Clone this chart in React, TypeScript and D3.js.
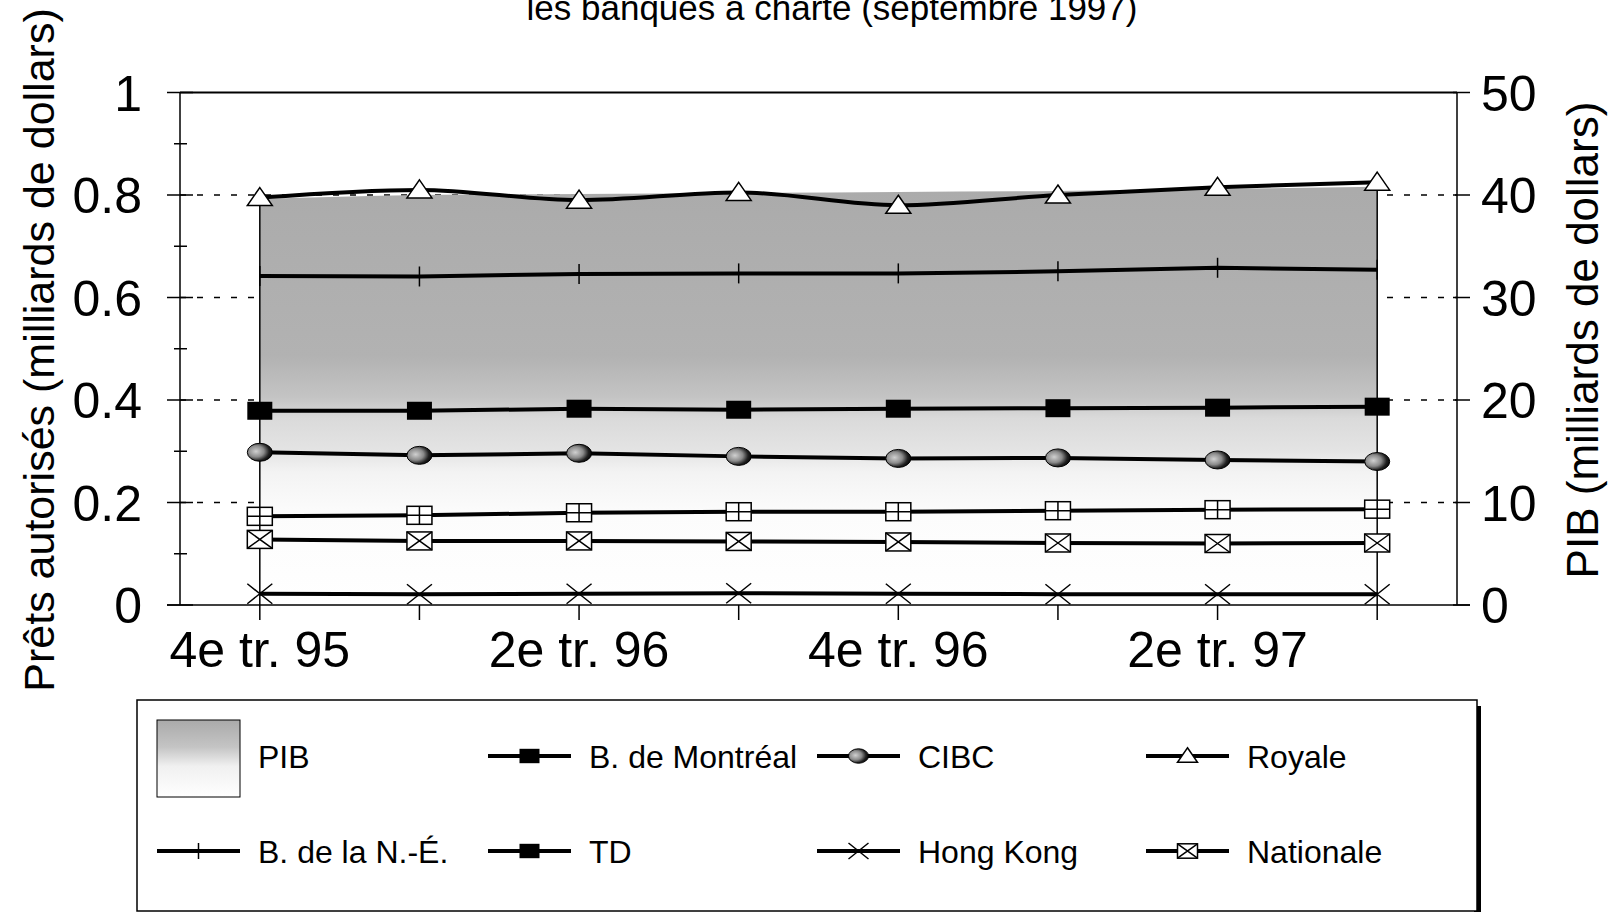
import * as d3 from 'd3';

const W = 1612;
const H = 914;
const PLOT = { left: 180, right: 1457, top: 92.5, bottom: 605 };
const FONT = 'Liberation Sans, Arial, Helvetica, sans-serif';

// quarters (only every other one is labelled on the axis)
const categories = ['4e tr. 95', '1er tr. 96', '2e tr. 96', '3e tr. 96', '4e tr. 96', '1er tr. 97', '2e tr. 97', '3e tr. 97'];
const tickLabels = ['4e tr. 95', '', '2e tr. 96', '', '4e tr. 96', '', '2e tr. 97', ''];
const leftTicks = [0, 0.2, 0.4, 0.6, 0.8, 1];
const leftMinor = [0.1, 0.3, 0.5, 0.7, 0.9];
const rightTicks = [0, 10, 20, 30, 40, 50];

// PIB in milliards de dollars (right axis)
const pib = [39.6, 40.0, 40.1, 40.2, 40.3, 40.4, 40.6, 40.8];
// prêts autorisés in milliards de dollars (left axis)
const royale = [0.795, 0.81, 0.79, 0.805, 0.78, 0.8, 0.815, 0.825];
const nouvelleEcosse = [0.642, 0.641, 0.646, 0.647, 0.647, 0.651, 0.658, 0.654];
const montreal = [0.379, 0.379, 0.383, 0.381, 0.383, 0.384, 0.385, 0.387];
const cibc = [0.298, 0.292, 0.296, 0.29, 0.286, 0.287, 0.283, 0.28];
const td = [0.173, 0.175, 0.18, 0.182, 0.182, 0.184, 0.186, 0.187];
const nationale = [0.128, 0.125, 0.125, 0.124, 0.123, 0.121, 0.12, 0.121];
const hongKong = [0.022, 0.021, 0.022, 0.023, 0.022, 0.021, 0.021, 0.021];

const series = [
  { name: 'B. de la N.-É.', values: nouvelleEcosse, marker: 'tick', smooth: false },
  { name: 'Royale', values: royale, marker: 'triangle', smooth: true },
  { name: 'B. de Montréal', values: montreal, marker: 'square', smooth: false },
  { name: 'CIBC', values: cibc, marker: 'sphere', smooth: false },
  { name: 'TD', values: td, marker: 'squarePlus', smooth: false },
  { name: 'Nationale', values: nationale, marker: 'squareX', smooth: false },
  { name: 'Hong Kong', values: hongKong, marker: 'cross', smooth: false },
];

const legendRows = [
  [
    { label: 'PIB', marker: 'area' },
    { label: 'B. de Montréal', marker: 'square' },
    { label: 'CIBC', marker: 'sphere' },
    { label: 'Royale', marker: 'triangle' },
  ],
  [
    { label: 'B. de la N.-É.', marker: 'tick' },
    { label: 'TD', marker: 'square' },
    { label: 'Hong Kong', marker: 'cross' },
    { label: 'Nationale', marker: 'squareX' },
  ],
];

const Marker = ({ type, x, y, s = 1 }: { type: string; x: number; y: number; s?: number }) => {
  const w = 12.5 * s;
  const h = 9 * s;
  if (type === 'square') return <rect x={x - w} y={y - h} width={2 * w} height={2 * h} fill="#000" />;
  if (type === 'squarePlus' || type === 'squareX')
    return (
      <g stroke="#000" strokeWidth={1.5}>
        <rect x={x - w} y={y - h} width={2 * w} height={2 * h} fill="#fff" />
        {type === 'squarePlus' ? (
          <path d={`M${x},${y - h}V${y + h}M${x - w},${y}H${x + w}`} />
        ) : (
          <path d={`M${x - w},${y - h}L${x + w},${y + h}M${x - w},${y + h}L${x + w},${y - h}`} />
        )}
      </g>
    );
  if (type === 'triangle')
    return (
      <path
        d={`M${x},${y - h - 1}L${x + w},${y + h - 1}L${x - w},${y + h - 1}Z`}
        fill="#fff"
        stroke="#000"
        strokeWidth={1.5}
      />
    );
  if (type === 'sphere') return <ellipse cx={x} cy={y} rx={w} ry={h} fill="url(#sphere)" stroke="#000" strokeWidth={1} />;
  if (type === 'cross')
    return (
      <path
        d={`M${x - w},${y - 10 * s}L${x + w},${y + 10 * s}M${x - w},${y + 10 * s}L${x + w},${y - 10 * s}`}
        stroke="#000"
        strokeWidth={1.5}
      />
    );
  if (type === 'tick') return <path d={`M${x},${y - 10 * s}V${y + 10 * s}`} stroke="#000" strokeWidth={1.5} />;
  return null;
};

export default function App() {
  const x = d3.scalePoint().domain(categories).range([PLOT.left, PLOT.right]).padding(0.5);
  const yL = d3.scaleLinear().domain([0, 1]).range([PLOT.bottom, PLOT.top]);
  const yR = d3.scaleLinear().domain([0, 50]).range([PLOT.bottom, PLOT.top]);

  const pibArea = d3
    .area<number>()
    .x((_, i) => x(categories[i])!)
    .y0(yR(0))
    .y1((d) => yR(d))
    .curve(d3.curveMonotoneX);

  const lineFor = (smooth: boolean) =>
    d3
      .line<number>()
      .x((_, i) => x(categories[i])!)
      .y((d) => yL(d))
      .curve(smooth ? d3.curveMonotoneX : d3.curveLinear);

  const xFirst = x(categories[0])!;
  const xLast = x(categories[categories.length - 1])!;

  const legendCols = [157, 488, 817, 1146];
  const legendRowY = [756, 851];

  return (
    <svg width={W} height={H} style={{ position: 'absolute', left: 0, top: 0, background: '#fff' }} fontFamily={FONT}>
      <defs>
        <linearGradient id="pibFill" gradientUnits="userSpaceOnUse" x1={0} y1={190} x2={0} y2={PLOT.bottom}>
          <stop offset={0} stopColor="#ababab" />
          <stop offset={0.4} stopColor="#b2b2b2" />
          <stop offset={0.5} stopColor="#c4c4c4" />
          <stop offset={0.55} stopColor="#dadada" />
          <stop offset={0.63} stopColor="#e4e4e4" />
          <stop offset={0.68} stopColor="#f3f3f3" />
          <stop offset={0.78} stopColor="#fcfcfc" />
          <stop offset={1} stopColor="#ffffff" />
        </linearGradient>
        <linearGradient id="pibSwatch" x1={0} y1={0} x2={0} y2={1}>
          <stop offset={0} stopColor="#aaaaaa" />
          <stop offset={0.35} stopColor="#c4c4c4" />
          <stop offset={0.6} stopColor="#f0f0f0" />
          <stop offset={1} stopColor="#ffffff" />
        </linearGradient>
        <radialGradient id="sphere" cx="0.35" cy="0.45" r="0.7">
          <stop offset={0} stopColor="#d0d0d0" />
          <stop offset={0.45} stopColor="#8a8a8a" />
          <stop offset={0.75} stopColor="#202020" />
          <stop offset={1} stopColor="#000" />
        </radialGradient>
      </defs>

      {/* title, cut off at the top of the page */}
      <text x={832} y={20} fontSize={35} textAnchor="middle">
        les banques à charte (septembre 1997)
      </text>

      {/* dashed grid */}
      {leftTicks
        .filter((t) => t > 0 && t < 1)
        .map((t) => (
          <line
            key={`g${t}`}
            x1={PLOT.left}
            x2={PLOT.right}
            y1={yL(t)}
            y2={yL(t)}
            stroke="#000"
            strokeWidth={1.5}
            strokeDasharray="6 11"
          />
        ))}

      {/* PIB area */}
      <path d={pibArea(pib)!} fill="url(#pibFill)" />
      <line x1={xFirst} x2={xFirst} y1={yR(pib[0])} y2={PLOT.bottom} stroke="#000" strokeWidth={1.5} />
      <line x1={xLast} x2={xLast} y1={yR(pib[pib.length - 1])} y2={PLOT.bottom} stroke="#000" strokeWidth={1.5} />

      {/* frame */}
      <line x1={PLOT.left} x2={PLOT.right} y1={PLOT.top} y2={PLOT.top} stroke="#000" strokeWidth={2} />
      <line x1={PLOT.left} x2={PLOT.left} y1={PLOT.top} y2={PLOT.bottom} stroke="#000" strokeWidth={1.5} />
      <line x1={PLOT.right} x2={PLOT.right} y1={PLOT.top} y2={PLOT.bottom} stroke="#000" strokeWidth={1.5} />
      <line x1={167} x2={1470} y1={PLOT.bottom} y2={PLOT.bottom} stroke="#000" strokeWidth={1.5} />

      {/* left axis */}
      {leftTicks.map((t) => (
        <g key={`l${t}`}>
          <line x1={167} x2={193} y1={yL(t)} y2={yL(t)} stroke="#000" strokeWidth={1.5} />
          <text x={142} y={yL(t) + 18} fontSize={50} textAnchor="end">
            {d3.format('~g')(t)}
          </text>
        </g>
      ))}
      {leftMinor.map((t) => (
        <line key={`m${t}`} x1={174} x2={187} y1={yL(t)} y2={yL(t)} stroke="#000" strokeWidth={1.5} />
      ))}

      {/* right axis */}
      {rightTicks.map((t) => (
        <g key={`r${t}`}>
          <line x1={PLOT.right - 4} x2={1470} y1={yR(t)} y2={yR(t)} stroke="#000" strokeWidth={1.5} />
          <text x={1481} y={yR(t) + 18} fontSize={50}>
            {t}
          </text>
        </g>
      ))}

      {/* x axis */}
      {categories.map((c, i) => (
        <g key={c}>
          <line x1={x(c)} x2={x(c)} y1={PLOT.bottom} y2={620} stroke="#000" strokeWidth={1.5} />
          {tickLabels[i] && (
            <text x={x(c)} y={667} fontSize={50} textAnchor="middle">
              {tickLabels[i]}
            </text>
          )}
        </g>
      ))}

      {/* axis titles */}
      <text transform="translate(54,350) rotate(-90)" fontSize={43} textAnchor="middle">
        Prêts autorisés (milliards de dollars)
      </text>
      <text transform="translate(1598,340) rotate(-90)" fontSize={44} textAnchor="middle">
        PIB (milliards de dollars)
      </text>

      {/* bank series */}
      {series.map((s) => (
        <path key={s.name} d={lineFor(s.smooth)(s.values)!} fill="none" stroke="#000" strokeWidth={4} />
      ))}
      {series.map((s) =>
        s.values.map((v, i) => <Marker key={`${s.name}${i}`} type={s.marker} x={x(categories[i])!} y={yL(v)} />)
      )}

      {/* legend */}
      <rect x={1474} y={706} width={7} height={206} fill="#000" />
      <rect x={137} y={700} width={1340} height={211} fill="#fff" stroke="#000" strokeWidth={1.5} />
      {legendRows.map((row, r) =>
        row.map((item, c) => {
          const lx = legendCols[c];
          const ly = legendRowY[r];
          return (
            <g key={item.label}>
              {item.marker === 'area' ? (
                <rect x={lx} y={720} width={83} height={77} fill="url(#pibSwatch)" stroke="#000" strokeWidth={1} />
              ) : (
                <>
                  <line x1={lx} x2={lx + 83} y1={ly} y2={ly} stroke="#000" strokeWidth={4} />
                  <Marker type={item.marker} x={lx + 41.5} y={ly} s={0.8} />
                </>
              )}
              <text x={lx + 101} y={ly + 12} fontSize={32}>
                {item.label}
              </text>
            </g>
          );
        })
      )}
    </svg>
  );
}
